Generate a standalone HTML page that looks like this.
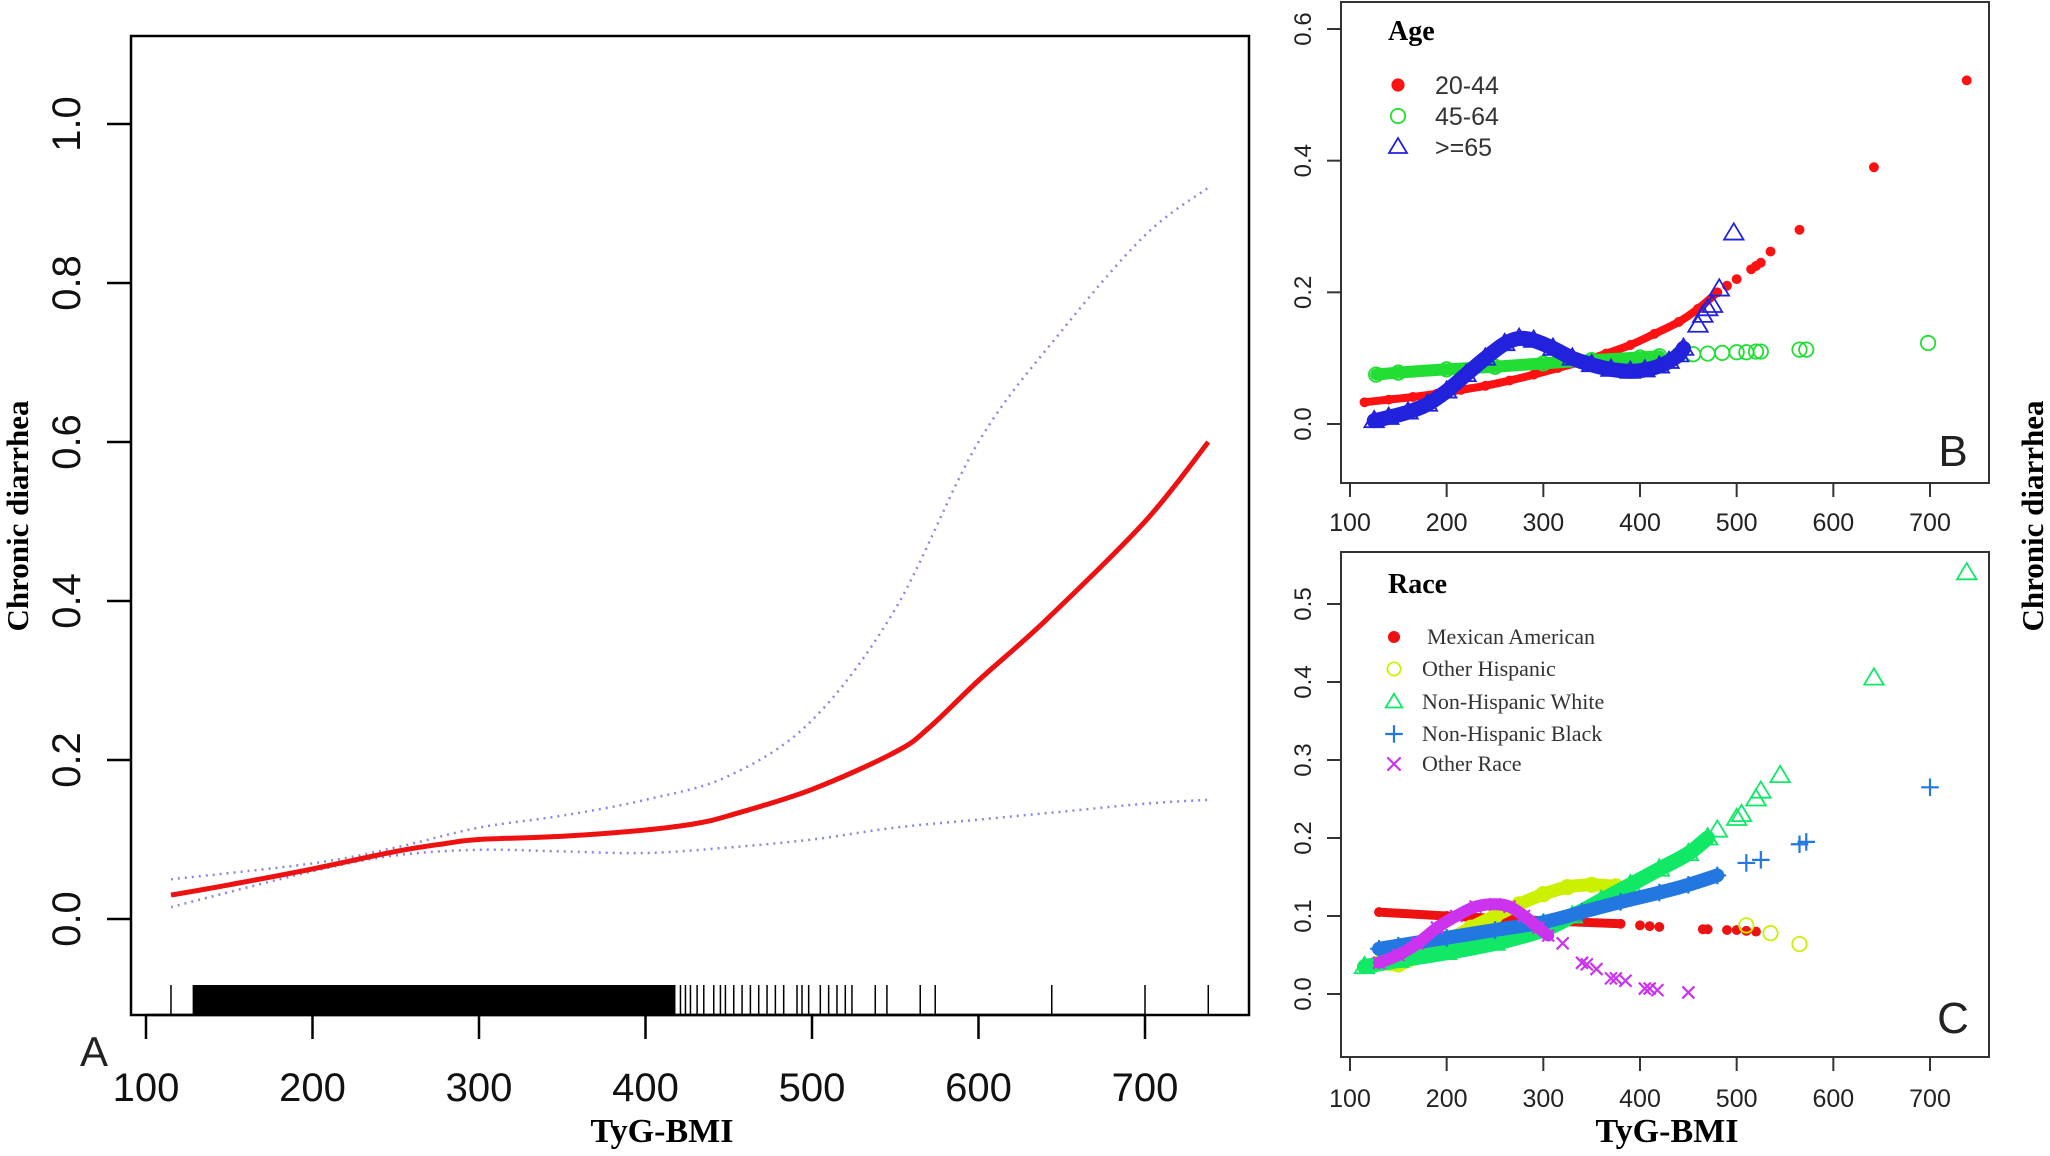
<!DOCTYPE html>
<html><head><meta charset="utf-8"><style>
html,body{margin:0;padding:0;background:#fff;}
svg{display:block;}
.sans{font-family:"Liberation Sans",Arial,sans-serif;}
.serif{font-family:"Liberation Serif","Times New Roman",serif;}
</style></head><body>
<svg id="fig" width="2050" height="1156" viewBox="0 0 2050 1156" xmlns="http://www.w3.org/2000/svg"></svg>
<script>
// ---------- Panel A data ----------
const aXTicks = [100,200,300,400,500,600,700];
const aYTicks = [0.0,0.2,0.4,0.6,0.8,1.0];
const aFitX = [115,150,200,250,280,300,350,400,430,450,500,550,570,600,640,700,738];
const aFitY = [0.03,0.043,0.063,0.085,0.095,0.1,0.104,0.112,0.12,0.13,0.163,0.21,0.24,0.3,0.375,0.5,0.6];
const aUpX = [115,200,250,300,350,400,450,500,550,600,650,700,738];
const aUpY = [0.05,0.07,0.09,0.115,0.13,0.15,0.18,0.25,0.39,0.6,0.74,0.86,0.92];
const aLoX = [115,200,250,300,350,400,450,500,550,600,650,700,738];
const aLoY = [0.015,0.06,0.08,0.087,0.085,0.083,0.09,0.1,0.115,0.125,0.135,0.145,0.15];
const rugDense = [128,418];
const rugSparse = [115,421,424,427,431,435,441,445,448,453,458,463,468,473,478,483,491,494,498,505,510,515,520,524,538,545,565,574,644,700,738];

// ---------- Panel B data ----------
const bXTicks = [100,200,300,400,500,600,700];
const bYTicks = [0.0,0.2,0.4,0.6];
const b2044X = [115,140,165,190,215,240,265,290,315,340,365,390,415,440,460,480,490,500,515,520,525,535,565,642,738];
const b2044Y = [0.033,0.037,0.041,0.046,0.052,0.058,0.066,0.075,0.085,0.095,0.107,0.12,0.137,0.155,0.175,0.2,0.21,0.22,0.235,0.24,0.245,0.262,0.295,0.39,0.522];
const b4564X = [127,150,200,250,300,350,400,420,440,455,470,485,500,510,520,525,565,572,698];
const b4564Y = [0.075,0.078,0.083,0.087,0.092,0.097,0.101,0.103,0.105,0.106,0.107,0.108,0.109,0.109,0.11,0.11,0.113,0.113,0.123];
const b65X = [125,140,160,180,200,220,240,260,275,290,310,330,350,370,390,405,420,430,440,445,460,465,470,475,482,497];
const b65Y = [0.005,0.01,0.018,0.03,0.05,0.075,0.1,0.122,0.13,0.127,0.115,0.1,0.09,0.083,0.08,0.082,0.088,0.095,0.105,0.115,0.15,0.165,0.175,0.18,0.205,0.29];

// ---------- Panel C data ----------
const cXTicks = [100,200,300,400,500,600,700];
const cYTicks = [0.0,0.1,0.2,0.3,0.4,0.5];
const cMexX = [130,200,300,380,400,410,420,465,470,490,500,510,520];
const cMexY = [0.105,0.1,0.094,0.09,0.088,0.087,0.086,0.083,0.083,0.082,0.082,0.081,0.08];
const cHisX = [130,150,175,200,225,250,275,300,325,350,375,510,535,565];
const cHisY = [0.04,0.038,0.05,0.068,0.085,0.1,0.115,0.128,0.137,0.14,0.138,0.088,0.078,0.064];
const cWhiX = [115,150,200,250,300,330,360,390,420,450,470,480,500,505,520,525,545,642,738];
const cWhiY = [0.035,0.043,0.053,0.065,0.082,0.1,0.12,0.14,0.16,0.18,0.2,0.21,0.225,0.23,0.25,0.26,0.28,0.405,0.54];
const cBlaX = [130,150,200,250,300,340,380,420,450,480,510,525,565,572,700];
const cBlaY = [0.058,0.062,0.072,0.082,0.092,0.105,0.118,0.13,0.14,0.152,0.168,0.172,0.192,0.195,0.265];
const cOthX = [130,150,170,190,210,230,250,265,280,295,305,320,340,345,355,370,375,385,405,410,418,450];
const cOthY = [0.04,0.05,0.065,0.085,0.1,0.112,0.115,0.112,0.1,0.085,0.075,0.065,0.04,0.038,0.032,0.02,0.02,0.017,0.007,0.007,0.005,0.002];

const NS = "http://www.w3.org/2000/svg";
const svg = document.getElementById('fig');
function mk(tag, attrs, parent){ const e=document.createElementNS(NS,tag); for(const k in attrs) e.setAttribute(k,attrs[k]); (parent||svg).appendChild(e); return e; }
function lin(d0,d1,r0,r1){ return v => r0+(v-d0)*(r1-r0)/(d1-d0); }
function path(xs,ys,fx,fy){
  const P=xs.map((x,i)=>[fx(x),fy(ys[i])]);
  let d='M'+P[0][0].toFixed(1)+','+P[0][1].toFixed(1);
  for(let i=0;i<P.length-1;i++){
    const p0=P[Math.max(0,i-1)],p1=P[i],p2=P[i+1],p3=P[Math.min(P.length-1,i+2)];
    const c1=[p1[0]+(p2[0]-p0[0])/6,p1[1]+(p2[1]-p0[1])/6];
    const c2=[p2[0]-(p3[0]-p1[0])/6,p2[1]-(p3[1]-p1[1])/6];
    d+=` C${c1[0].toFixed(1)},${c1[1].toFixed(1)} ${c2[0].toFixed(1)},${c2[1].toFixed(1)} ${p2[0].toFixed(1)},${p2[1].toFixed(1)}`;
  }
  return d;
}

// ===== Panel A =====
const ax = lin(100,700,146,1145), ay = lin(0,1,919,124);
const gA = mk('g',{});  
const boxA = mk('rect',{x:131,y:36,width:1118,height:979,fill:'none',stroke:'#000','stroke-width':2.5},gA);
 
aXTicks.forEach(t=>{
  const l=mk('line',{x1:ax(t),x2:ax(t),y1:1015,y2:1039,stroke:'#000','stroke-width':2.5},gA);
   
  const tx=mk('text',{x:ax(t),y:1101,'text-anchor':'middle','font-size':40,class:'sans',fill:'#111'},gA); tx.textContent=t;
   
});
mk('line',{x1:ax(100),x2:ax(700),y1:1015,y2:1015,stroke:'#000','stroke-width':2.5},gA);
aYTicks.forEach(t=>{
  const l=mk('line',{x1:107,x2:131,y1:ay(t),y2:ay(t),stroke:'#000','stroke-width':2.5},gA);
   
  const tx=mk('text',{x:0,y:0,transform:`translate(80,${ay(t)}) rotate(-90)`,'text-anchor':'middle','font-size':40,class:'sans',fill:'#111'},gA); tx.textContent=t.toFixed(1);
   
});
const rd = mk('rect',{x:ax(rugDense[0]),y:985,width:ax(rugDense[1])-ax(rugDense[0]),height:30,fill:'#000'},gA);
 
rugSparse.forEach(v=>{ const l=mk('line',{x1:ax(v),x2:ax(v),y1:985,y2:1015,stroke:'#000','stroke-width':1.5},gA);
    });
const up=mk('path',{d:path(aUpX,aUpY,ax,ay),fill:'none',stroke:'#8888dd','stroke-width':2.5,'stroke-dasharray':'2 5'},gA);
 
const lo=mk('path',{d:path(aLoX,aLoY,ax,ay),fill:'none',stroke:'#8888dd','stroke-width':2.5,'stroke-dasharray':'2 5'},gA);
 
const fit=mk('path',{d:path(aFitX,aFitY,ax,ay),fill:'none',stroke:'#ee1111','stroke-width':5,'stroke-linejoin':'round'},gA);
 
let t;
t=mk('text',{x:94,y:1066,'text-anchor':'middle','font-size':42,class:'sans',fill:'#222'},gA); t.textContent='A';
 
t=mk('text',{x:662,y:1142,'text-anchor':'middle','font-size':34,'font-weight':'bold',class:'serif'},gA); t.textContent='TyG-BMI';
 
t=mk('text',{x:0,y:0,transform:'translate(28,516) rotate(-90)','text-anchor':'middle','font-size':31,'font-weight':'bold',class:'serif'},gA); t.textContent='Chronic diarrhea';
 

// ===== Marker helpers =====
function marker(g,shape,x,y,col,s){
  let e;
  if(shape==='dot') e=mk('circle',{cx:x,cy:y,r:s*0.55,fill:col},g);
  else if(shape==='circle') e=mk('circle',{cx:x,cy:y,r:s*0.6,fill:'none',stroke:col,'stroke-width':1.8},g);
  else if(shape==='tri') e=mk('path',{d:`M${x},${y-s*0.75} L${x+s*0.75},${y+s*0.5} L${x-s*0.75},${y+s*0.5} Z`,fill:'none',stroke:col,'stroke-width':1.8},g);
  else if(shape==='plus') e=mk('path',{d:`M${x-s*0.8},${y} H${x+s*0.8} M${x},${y-s*0.8} V${y+s*0.8}`,stroke:col,'stroke-width':2.2},g);
  else e=mk('path',{d:`M${x-s*0.6},${y-s*0.6} L${x+s*0.6},${y+s*0.6} M${x+s*0.6},${y-s*0.6} L${x-s*0.6},${y+s*0.6}`,stroke:col,'stroke-width':2.2},g);
   
}
function series(g,name,xs,ys,fx,fy,shape,col,s,denseMax,lw){
  const sg=mk('g',{},g);  
  const dx=[],dy=[];
  xs.forEach((x,i)=>{ if(x<=denseMax){dx.push(x);dy.push(ys[i]);} });
  if(dx.length>1){ const p=mk('path',{d:path(dx,dy,fx,fy),fill:'none',stroke:col,'stroke-width':lw,'stroke-linecap':'round','stroke-linejoin':'round'},sg);
      }
  xs.forEach((x,i)=>marker(sg,shape,fx(x),fy(ys[i]),col,s));
}
function axesSmall(g,fx,fy,xt,yt,box,labY,prefix){
  const r=mk('rect',{x:box[0],y:box[1],width:box[2]-box[0],height:box[3]-box[1],fill:'none',stroke:'#333','stroke-width':2},g);
   
  mk('line',{x1:fx(xt[0]),x2:fx(xt[xt.length-1]),y1:box[3],y2:box[3],stroke:'#333','stroke-width':2},g);
  xt.forEach(v=>{ const l=mk('line',{x1:fx(v),x2:fx(v),y1:box[3],y2:box[3]+14,stroke:'#333','stroke-width':2},g);
     
    const tx=mk('text',{x:fx(v),y:labY,'text-anchor':'middle','font-size':25,class:'sans',fill:'#222'},g); tx.textContent=v;
      });
  yt.forEach(v=>{ const l=mk('line',{x1:box[0]-14,x2:box[0],y1:fy(v),y2:fy(v),stroke:'#333','stroke-width':2},g);
     
    const tx=mk('text',{x:0,y:0,transform:`translate(1311,${fy(v)}) rotate(-90)`,'text-anchor':'middle','font-size':24,class:'sans',fill:'#222'},g); tx.textContent=v.toFixed(1);
      });
}

// ===== Panel B =====
const bx = lin(100,700,1350,1930), by = lin(0,0.6,424,29);
const gB = mk('g',{});  
axesSmall(gB,bx,by,bXTicks,bYTicks,[1341,2,1989,483],531,'panel-b');
series(gB,'series-20-44',b2044X,b2044Y,bx,by,'dot','#ff1111',9,480,8);
series(gB,'series-45-64',b4564X,b4564Y,bx,by,'circle','#22dd33',12,420,12);
series(gB,'series-65-plus',b65X,b65Y,bx,by,'tri','#2222dd',13,445,15);
t=mk('text',{x:1388,y:40,'font-size':28,'font-weight':'bold',class:'serif'},gB); t.textContent='Age';
 
[['20-44','dot','#ff1111',85],['45-64','circle','#22dd33',116],['>=65','tri','#2222dd',147]].forEach(e=>{
  const lg=mk('g',{},gB);  
  marker(lg,e[1],1398,e[3],e[2],12);
  const tx=mk('text',{x:1435,y:e[3]+9,'font-size':25,class:'sans',fill:'#333'},lg); tx.textContent=e[0];
});
t=mk('text',{x:1953,y:466,'text-anchor':'middle','font-size':44,class:'sans',fill:'#222'},gB); t.textContent='B';
 

// ===== Panel C =====
const cx = lin(100,700,1350,1930), cy = lin(0,0.5,994,604);
const gC = mk('g',{});  
axesSmall(gC,cx,cy,cXTicks,cYTicks,[1341,552,1989,1057],1107,'panel-c');
series(gC,'series-mexican-american',cMexX,cMexY,cx,cy,'dot','#ee1111',9,380,9);
series(gC,'series-other-hispanic',cHisX,cHisY,cx,cy,'circle','#ccf000',12,375,13);
series(gC,'series-non-hispanic-white',cWhiX,cWhiY,cx,cy,'tri','#11e866',13,470,15);
series(gC,'series-non-hispanic-black',cBlaX,cBlaY,cx,cy,'plus','#2277e0',11,480,14);
series(gC,'series-other-race',cOthX,cOthY,cx,cy,'x','#cc33ee',10,305,12);
t=mk('text',{x:1388,y:593,'font-size':28,'font-weight':'bold',class:'serif'},gC); t.textContent='Race';
 
[['Mexican American','dot','#ee1111',637,1427],['Other Hispanic','circle','#ccf000',669,1422],['Non-Hispanic White','tri','#11e866',702,1422],['Non-Hispanic Black','plus','#2277e0',734,1422],['Other Race','x','#cc33ee',764,1422]].forEach(e=>{
  const lg=mk('g',{},gC);  
  marker(lg,e[1],1394,e[3],e[2],11);
  const tx=mk('text',{x:e[4],y:e[3]+7,'font-size':22,class:'serif',fill:'#333'},lg); tx.textContent=e[0];
});
t=mk('text',{x:1953,y:1033,'text-anchor':'middle','font-size':44,class:'sans',fill:'#222'},gC); t.textContent='C';
 
t=mk('text',{x:1667,y:1142,'text-anchor':'middle','font-size':34,'font-weight':'bold',class:'serif'},gC); t.textContent='TyG-BMI';
 
t=mk('text',{x:0,y:0,transform:'translate(2043,516) rotate(-90)','text-anchor':'middle','font-size':31,'font-weight':'bold',class:'serif'},svg); t.textContent='Chronic diarrhea';
 
</script>
</body></html>
